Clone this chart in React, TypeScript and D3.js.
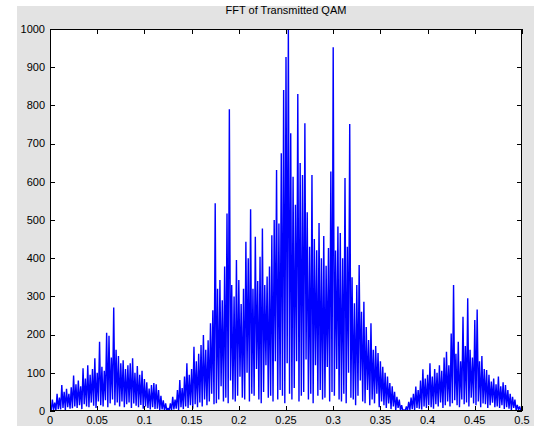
import React from "react";
import * as d3 from "d3";

const title = "FFT of Transmitted QAM";
const xTicks = [0, 0.05, 0.1, 0.15, 0.2, 0.25, 0.3, 0.35, 0.4, 0.45, 0.5];
const xTickLabels = ["0", "0.05", "0.1", "0.15", "0.2", "0.25", "0.3", "0.35", "0.4", "0.45", "0.5"];
const yTicks = [0, 100, 200, 300, 400, 500, 600, 700, 800, 900, 1000];

// upper points of the spectrum (one per 0.0025 of normalized frequency, 0 .. 0.5)
const peakValues = [
  15, 30, 22, 45, 35, 68, 50, 58, 45, 62,
  93, 70, 80, 65, 112, 85, 120, 95, 110, 138,
  100, 181, 116, 105, 205, 197, 140, 271, 160, 144,
  125, 133, 110, 120, 125, 138, 100, 118, 95, 105,
  84, 75, 59, 68, 73, 70, 55, 40, 28, 20,
  8, 20, 37, 30, 55, 81, 60, 90, 125, 95,
  110, 168, 130, 150, 173, 199, 160, 185, 230, 264,
  544, 320, 343, 290, 378, 517, 790, 330, 300, 395,
  343, 280, 320, 443, 400, 528, 320, 456, 340, 404,
  478, 330, 352, 378, 460, 500, 631, 491, 675, 840,
  927, 1000, 727, 613, 540, 830, 649, 618, 753, 520,
  430, 618, 450, 421, 492, 400, 458, 380, 427, 627,
  952, 420, 483, 466, 400, 610, 430, 751, 350, 282,
  330, 382, 260, 286, 220, 186, 230, 160, 170, 152,
  130, 116, 100, 90, 73, 65, 50, 37, 30, 15,
  3, 12, 24, 35, 45, 64, 55, 80, 109, 85,
  95, 125, 90, 110, 100, 120, 105, 140, 155, 120,
  203, 330, 150, 181, 130, 247, 170, 295, 160, 140,
  238, 266, 130, 144, 110, 107, 95, 77, 85, 70,
  90, 65, 75, 68, 55, 45, 37, 30, 16, 12,
  5,
];

// lower points between consecutive peaks
const troughValues = [
  0, 3, 1, 5, 4, 8, 3, 10, 6, 7,
  12, 8, 15, 5, 18, 12, 10, 22, 14, 8,
  25, 15, 12, 28, 10, 20, 30, 15, 22, 12,
  25, 10, 18, 22, 8, 20, 14, 10, 16, 6,
  12, 8, 4, 10, 5, 6, 2, 4, 1, 1,
  0, 2, 4, 6, 3, 10, 5, 12, 8, 15,
  6, 18, 10, 22, 12, 30, 15, 25, 45, 18,
  20, 30, 65, 25, 35, 20, 80, 30, 25, 40,
  90, 35, 30, 100, 25, 45, 40, 110, 30, 20,
  50, 120, 35, 40, 25, 130, 30, 55, 40, 20,
  125, 45, 30, 60, 130, 25, 40, 50, 135, 30,
  45, 20, 120, 40, 55, 30, 35, 115, 25, 50,
  40, 110, 30, 25, 45, 20, 100, 35, 30, 15,
  40, 80, 25, 20, 55, 15, 30, 20, 45, 10,
  25, 15, 8, 20, 5, 12, 3, 8, 2, 1,
  0, 1, 3, 5, 2, 8, 6, 4, 12, 8,
  15, 10, 6, 18, 12, 22, 8, 15, 25, 12,
  20, 28, 15, 10, 30, 18, 22, 12, 35, 20,
  15, 25, 10, 20, 18, 8, 15, 22, 10, 12,
  8, 15, 5, 10, 6, 3, 8, 2, 3, 1,
];

const W = 534;
const H = 426;
const plot = { left: 50, right: 522, top: 29, bottom: 411 };
const font = "'Liberation Sans', Arial, Helvetica, sans-serif";

export default function App() {
  const x = d3.scaleLinear().domain([0, 0.5]).range([plot.left, plot.right]);
  const y = d3.scaleLinear().domain([0, 1000]).range([plot.bottom, plot.top]);
  const step = 0.5 / (peakValues.length - 1);

  const pts: [number, number][] = [];
  peakValues.forEach((v, i) => {
    pts.push([i * step, v]);
    if (i < troughValues.length) pts.push([(i + 0.5) * step, troughValues[i]]);
  });
  const line = d3
    .line<[number, number]>()
    .x((d) => x(d[0]))
    .y((d) => y(d[1]));

  const tl = 5;
  return (
    <svg
      width={W}
      height={H}
      style={{ position: "absolute", left: 0, top: 0, display: "block" }}
      fontFamily={font}
    >
      <rect x={0} y={0} width={W} height={H} fill="#ffffff" />
      <rect x={17} y={6} width={W - 17} height={H - 6} fill="#e3e3e3" />
      <rect
        x={plot.left}
        y={plot.top}
        width={plot.right - plot.left}
        height={plot.bottom - plot.top}
        fill="#ffffff"
      />
      <defs>
        <clipPath id="clip">
          <rect
            x={plot.left}
            y={plot.top - 1}
            width={plot.right - plot.left}
            height={plot.bottom - plot.top + 1}
          />
        </clipPath>
      </defs>
      <path
        d={line(pts) || ""}
        fill="none"
        stroke="#0000ff"
        strokeWidth={1.4}
        strokeLinejoin="bevel"
        clipPath="url(#clip)"
      />
      <rect
        x={plot.left + 0.5}
        y={plot.top + 0.5}
        width={plot.right - plot.left - 1}
        height={plot.bottom - plot.top - 1}
        fill="none"
        stroke="#000"
        strokeWidth={1}
      />
      {xTicks.map((t, i) => {
        const px = Math.round(x(t)) + 0.5;
        return (
          <g key={"x" + i}>
            <line x1={px} x2={px} y1={plot.bottom} y2={plot.bottom - tl} stroke="#000" />
            <line x1={px} x2={px} y1={plot.top} y2={plot.top + tl} stroke="#000" />
            <text x={x(t)} y={424} fontSize={11} textAnchor="middle" fill="#000">
              {xTickLabels[i]}
            </text>
          </g>
        );
      })}
      {yTicks.map((t, i) => {
        const py = Math.round(y(t)) + 0.5;
        return (
          <g key={"y" + i}>
            <line x1={plot.left} x2={plot.left + tl} y1={py} y2={py} stroke="#000" />
            <line x1={plot.right} x2={plot.right - tl} y1={py} y2={py} stroke="#000" />
            <text x={45} y={y(t)} dy="0.35em" fontSize={11} textAnchor="end" fill="#000">
              {t}
            </text>
          </g>
        );
      })}
      <text x={(plot.left + plot.right) / 2} y={13.5} fontSize={11} textAnchor="middle" fill="#000">
        {title}
      </text>
    </svg>
  );
}
